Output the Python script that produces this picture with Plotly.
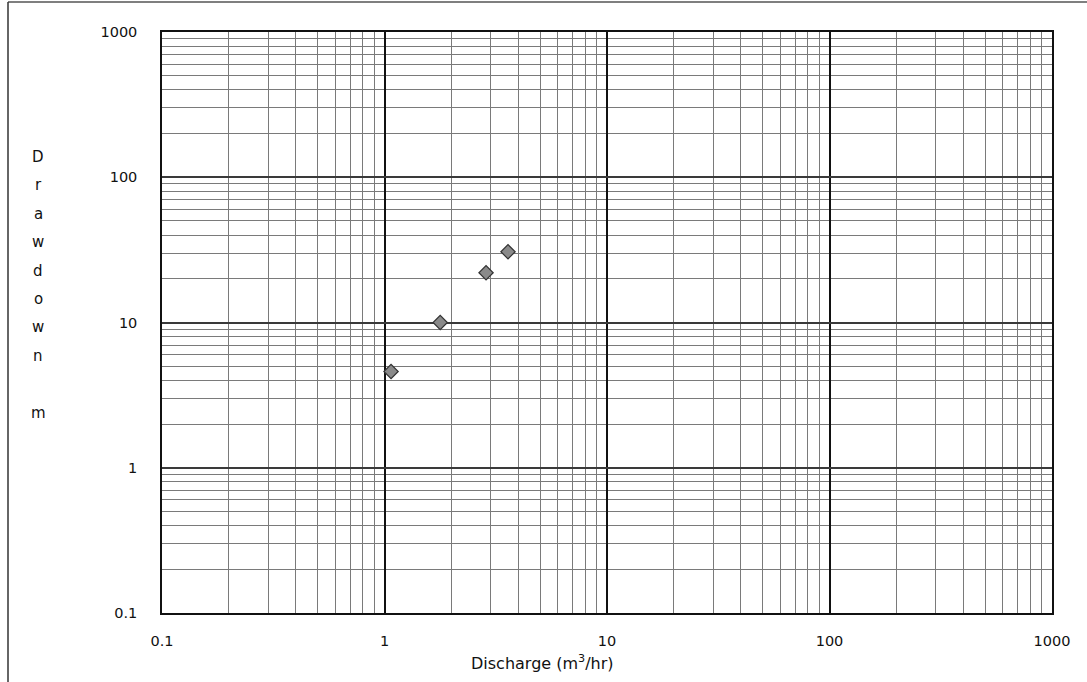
import plotly.graph_objects as go

# Data
discharge = [1.07, 1.78, 2.86, 3.59]      # m3/hr
drawdown = [4.6, 10.0, 22.0, 30.7]        # m
tick_vals = [0.1, 1, 10, 100, 1000]
tick_text = ["0.1", "1", "10", "100", "1000"]

FONT = "DejaVu Sans, sans-serif"

fig = go.Figure()
fig.add_trace(go.Scatter(
    x=discharge, y=drawdown, mode="markers",
    marker=dict(symbol="diamond", size=11, color="#8a8a8a",
                line=dict(color="#333333", width=1.2)),
    showlegend=False,
))

axis_common = dict(
    type="log",
    tickvals=tick_vals, ticktext=tick_text,
    showgrid=True, gridwidth=2,
    minor=dict(showgrid=True, gridcolor="#7a7a7a", gridwidth=1, dtick="D1", ticks=""),
    showline=True, linecolor="#111111", linewidth=1.5, mirror=True,
    ticks="", zeroline=False,
    tickfont=dict(family=FONT, size=14.5, color="#111111"),
)

fig.update_xaxes(range=[-1, 3], ticklabelstandoff=14, gridcolor="#111111", **axis_common)
fig.update_yaxes(range=[-1, 3], ticklabelstandoff=20, gridcolor="#3a3a3a", **axis_common)

fig.update_layout(
    width=1087, height=682,
    margin=dict(l=162, r=35, t=32, b=69),
    paper_bgcolor="white", plot_bgcolor="white",
    font=dict(family=FONT, color="#111111"),
)

# Axis titles
fig.add_annotation(
    text="Discharge (m<sup>3</sup>/hr)", xref="paper", yref="paper",
    x=(542 - 162) / 890, y=-(662 - 613) / 581, showarrow=False,
    font=dict(family=FONT, size=16, color="#111111"), yanchor="middle",
)
letters = ["D", "r", "a", "w", "d", "o", "w", "n", " ", "m"]
for i, ch in enumerate(letters):
    if not ch.strip():
        continue
    ypix = 157 + i * 28.4
    fig.add_annotation(
        text=ch, xref="paper", yref="paper",
        x=(38 - 162) / 890, y=(613 - ypix) / 581, showarrow=False,
        font=dict(family=FONT, size=15, color="#111111"),
        xanchor="center", yanchor="middle",
    )

# Scanned frame lines (top and left)
fig.add_shape(type="line", xref="paper", yref="paper",
              x0=(8 - 162) / 890, x1=(1087 - 162) / 890,
              y0=(613 - 2) / 581, y1=(613 - 2) / 581,
              line=dict(color="#555555", width=1.5))
fig.add_shape(type="line", xref="paper", yref="paper",
              x0=(8 - 162) / 890, x1=(8 - 162) / 890,
              y0=(613 - 2) / 581, y1=(613 - 682) / 581,
              line=dict(color="#333333", width=1.5))

fig.write_html("out.html", config={"displayModeBar": False},
               post_script="document.body.style.margin='0';")
